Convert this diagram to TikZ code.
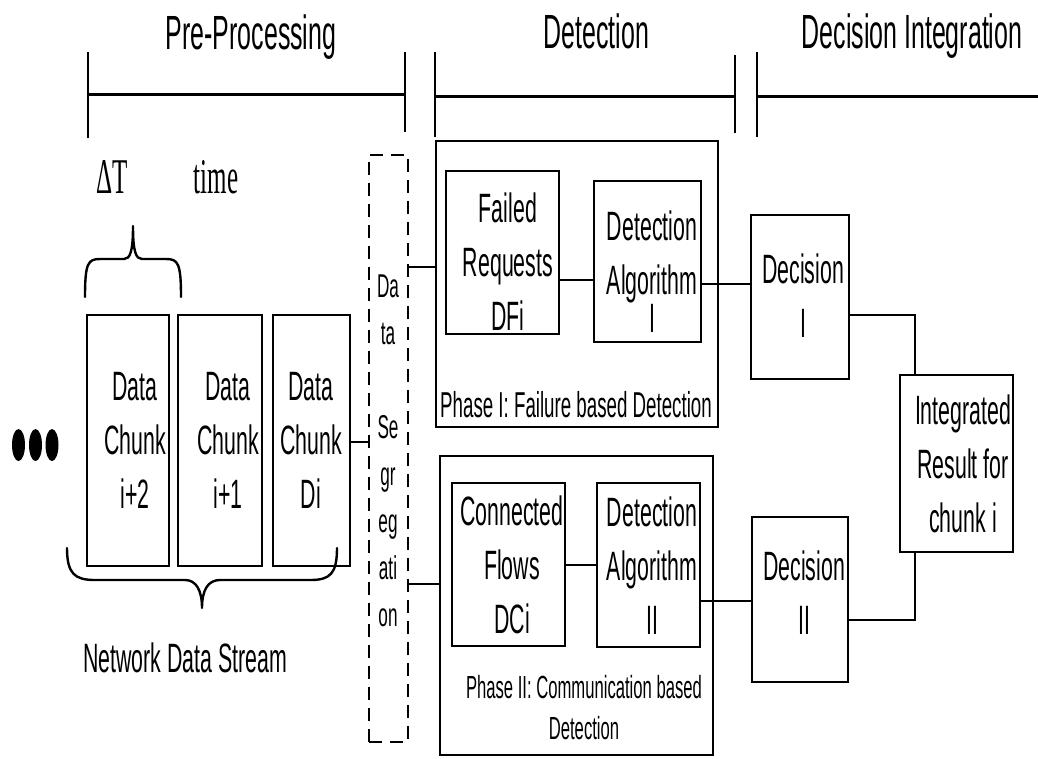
\documentclass[tikz,border=0pt]{standalone}
\usepackage{fontspec}
\newfontfamily\nar{Liberation Sans}[FakeStretch=0.52]
\newfontfamily\narserif{Liberation Serif}[FakeStretch=0.5]
\begin{document}
\begin{tikzpicture}[x=1pt,y=-1pt,
  box/.style={draw, rectangle, line width=2.4pt, inner sep=0pt},
  segbox/.style={draw, rectangle, line width=2.2pt, dash pattern=on 13pt off 8pt, inner sep=0pt},
  conn/.style={line width=2.4pt},
  bar/.style={line width=3pt},
  tick/.style={line width=2pt},
  brace/.style={line width=2.4pt, line cap=round, line join=round},
  head/.style={font=\nar\fontsize{48}{56}\selectfont, inner sep=0pt, anchor=base},
  txt/.style={font=\nar\fontsize{41}{54}\selectfont, align=center, inner sep=0pt},
  segtxt/.style={font=\nar\fontsize{33}{47}\selectfont, align=center, inner sep=0pt},
  phasetxt/.style={font=\nar\fontsize{36}{41}\selectfont, align=center, inner sep=0pt},
  phasetxtb/.style={font=\nar\fontsize{32}{41}\selectfont, align=center, inner sep=0pt},
  sertxt/.style={font=\narserif\fontsize{50}{56}\selectfont, inner sep=0pt, anchor=base}
]
\useasboundingbox (0,0) rectangle (1038,758);

% stage headings with their spans
\node[head] (hpre) at (251,49) {Pre-Processing};
\node[head] (hdet) at (596.5,48) {Detection};
\node[head] (hdec) at (912,48) {Decision Integration};

\draw[bar] (88,94) -- (405,94);
\draw[tick] (88,52) -- (88,138);
\draw[tick] (405,52) -- (405,132);
\draw[bar] (435,96) -- (735,96);
\draw[tick] (435,52) -- (435,137);
\draw[tick] (735,55) -- (735,133);
\draw[bar] (757,96) -- (1038,96);
\draw[tick] (757,52) -- (757,137);

% time window labels
\node[sertxt] (dt) at (112,193) {ΔT};
\node[sertxt] (tm) at (216,193) {time};

% brace over one chunk
\draw[brace] (85,297) .. controls (85,263) and (88,259) .. (100,259) -- (124,259)
  .. controls (130,259) and (133,252) .. (133,226)
  .. controls (133,252) and (136,259) .. (142,259) -- (166,259)
  .. controls (178,259) and (181,263) .. (181,297);

% earlier chunks
\fill (18.5,445) ellipse [x radius=6.5pt, y radius=16pt];
\fill (35.5,445) ellipse [x radius=6.5pt, y radius=16pt];
\fill (52,445) ellipse [x radius=6.5pt, y radius=16pt];

% data chunks
\node[box, minimum width=82pt, minimum height=251pt] (c1) at (128,440.5) {};
\node[box, minimum width=84pt, minimum height=251pt] (c2) at (220,440.5) {};
\node[box, minimum width=77pt, minimum height=251pt] (c3) at (311.5,440.5) {};
\node[txt] (c1t) at (135,440) {Data\\Chunk\\i+2};
\node[txt] (c2t) at (228,440) {Data\\Chunk\\i+1};
\node[txt] (c3t) at (311,440) {Data\\Chunk\\Di};

% brace under the stream
\draw[brace] (67,548) .. controls (67,574) and (75,580) .. (95,580) -- (185,580)
  .. controls (196,580) and (202,590) .. (202,608)
  .. controls (202,590) and (208,580) .. (220,580) -- (310,580)
  .. controls (330,580) and (337,574) .. (337,548);
\node[txt] (nds) at (185,658) {Network Data Stream};

% data segregation
\node[segbox, minimum width=39pt, minimum height=587pt] (seg) at (388.5,448.5) {};
\node[segtxt] (segt) at (388,451) {Da\\ta\\[47pt]Se\\gr\\eg\\ati\\on};

% phase I
\node[box, minimum width=282pt, minimum height=286pt] (ph1) at (577,284) {};
\node[box, minimum width=113pt, minimum height=163pt] (fr) at (502.5,252.5) {};
\node[box, minimum width=107pt, minimum height=161pt] (da1) at (647.5,261.5) {};
\node[txt] (frt) at (508,262) {Failed\\Requests\\DFi};
\node[txt] (da1t) at (652,272) {Detection\\Algorithm\\[-16pt]I};
\node[phasetxt] (ph1t) at (576,405) {Phase I: Failure based Detection};

% phase II
\node[box, minimum width=273pt, minimum height=299pt] (ph2) at (576.5,605.5) {};
\node[box, minimum width=113pt, minimum height=163pt] (cf) at (508.5,564.5) {};
\node[box, minimum width=103pt, minimum height=164pt] (da2) at (648.5,565) {};
\node[txt] (cft) at (512,565) {Connected\\Flows\\DCi};
\node[txt] (da2t) at (652,566) {Detection\\Algorithm\\II};
\node[phasetxtb] (ph2t) at (584,708) {Phase II: Communication based\\Detection};

% decisions and integration
\node[box, minimum width=98pt, minimum height=164pt] (dec1) at (800,297) {};
\node[box, minimum width=96pt, minimum height=165pt] (dec2) at (800,599.5) {};
\node[box, minimum width=113pt, minimum height=177pt] (integ) at (956.5,463.5) {};
\node[txt] (dec1t) at (803,296) {Decision\\I};
\node[txt] (dec2t) at (804,593) {Decision\\II};
\node[txt] (integt) at (963,464) {Integrated\\Result for\\chunk i};

% connectors
\draw[conn] (c3.east |- 0,442) -- (seg.west |- 0,442);
\draw[conn] (seg.east |- 0,267) -- (ph1.west |- 0,267);
\draw[conn] (seg.east |- 0,584) -- (ph2.west |- 0,584);
\draw[conn] (fr.east |- 0,280) -- (da1.west |- 0,280);
\draw[conn] (da1.east |- 0,284) -- (dec1.west |- 0,284);
\draw[conn] (cf.east |- 0,565) -- (da2.west |- 0,565);
\draw[conn] (da2.east |- 0,601) -- (dec2.west |- 0,601);
\draw[conn] (dec1.east |- 0,315) -| (integ.north -| 915,0);
\draw[conn] (integ.south -| 915,0) |- (dec2.east |- 0,620);
\end{tikzpicture}
\end{document}
